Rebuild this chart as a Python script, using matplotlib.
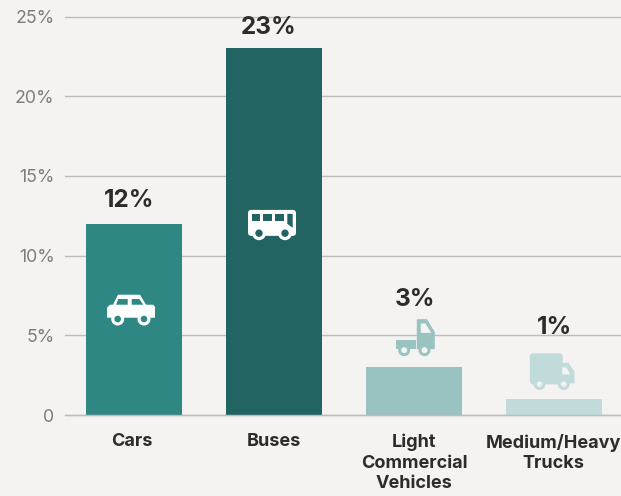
import matplotlib
matplotlib.use("Agg")
import matplotlib.pyplot as plt
from matplotlib.patches import Polygon, Circle, FancyBboxPatch
from matplotlib.transforms import Affine2D

categories = ["Cars", "Buses", "Light\nCommercial\nVehicles", "Medium/Heavy\nTrucks"]
shares = [12, 23, 3, 1]
y_ticks = [0, 5, 10, 15, 20, 25]
y_tick_labels = ["0", "5%", "10%", "15%", "20%", "25%"]

BG = "#f4f3f1"
INK = "#2f2a2b"
TICK = "#7f7c7a"
GRID = "#bfbdba"
bar_colors = ["#2e8783", "#226461", "#99c3c1", "#c1dbdb"]
FONT = "Inter"

W, H = 621, 496
LEFT, RIGHT, Y0, Y25 = 65, 621, 415, 16.5


def wheels(centers, r_out, r_in, fg, bg):
    out = []
    for c in centers:
        out.append(Circle(c, r_out, fc=fg))
        out.append(Circle(c, r_in, fc=bg))
    return out


def car(fg, bg):
    shapes = [
        Polygon([(-24, -3), (-21, -6), (-18, -6), (-13, -16), (9, -16), (15, -6),
                 (22, -6), (24, -4), (24, 7), (-24, 7)], fc=fg),
        Polygon([(-15, -6), (-12.7, -11.7), (-3.3, -11.7), (-3.3, -6)], fc=bg),
        Polygon([(0.7, -6), (0.7, -11.7), (8.3, -11.7), (12.3, -6)], fc=bg),
    ]
    return shapes + wheels([(-13.3, 8.3), (13, 8.3)], 6.5, 3.3, fg, bg)


def bus(fg, bg):
    shapes = [FancyBboxPatch((-21, -11), 42, 20, boxstyle="round,pad=3,rounding_size=3", fc=fg)]
    for x0, x1 in [(-20.3, -12), (-8.7, 0), (3.3, 12)]:
        shapes.append(Polygon([(x0, -10), (x1, -10), (x1, -3.3), (x0, -3.3)], fc=bg))
    shapes.append(Polygon([(15.3, -10), (20.7, -10), (20.7, 4), (15.3, 0)], fc=bg))
    return shapes + wheels([(-13, 9.3), (13, 9.3)], 7, 3.7, fg, bg)


def pickup(fg, bg):
    shapes = [
        Polygon([(-20, 2), (0.7, 2), (0.7, 11), (-20, 11)], fc=fg),
        Polygon([(1.3, -19), (11.5, -19), (19.3, -6), (19.3, 11), (1.3, 11)], fc=fg),
        Polygon([(5.3, -14.7), (10, -14.7), (15.7, -5.3), (5.3, -5.3)], fc=bg),
    ]
    return shapes + wheels([(-11.3, 12), (9, 12)], 6, 3, fg, bg)


def van(fg, bg):
    shapes = [
        FancyBboxPatch((-19.7, -15.7), 29, 27, boxstyle="round,pad=2,rounding_size=3", fc=fg),
        Polygon([(10.7, -8.3), (17, -8.3), (23, 1), (23, 12.3), (10.7, 12.3)], fc=fg),
        Polygon([(10.7, -3.7), (14.7, -3.7), (19, 3.3), (10.7, 3.3)], fc=bg),
    ]
    return shapes + wheels([(-12, 13), (12.3, 13)], 6, 2.7, fg, bg)


def draw_icon(ax, func, x, y, fg, bg):
    # icons are built in pixels around their centre, y pointing down
    px, py = ax.transData.transform((x, y))
    tr = Affine2D().scale(1, -1).translate(px, py)
    for patch in func(fg, bg):
        patch.set_edgecolor("none")
        patch.set_transform(tr)
        patch.set_clip_on(False)
        patch.set_zorder(4)
        ax.add_artist(patch)


fig = plt.figure(figsize=(W / 100, H / 100), dpi=100, facecolor=BG)
ax = fig.add_axes([LEFT / W, 1 - Y0 / H, (RIGHT - LEFT) / W, (Y0 - Y25) / H], facecolor=BG)

xs = list(range(len(categories)))
ax.set_xlim((LEFT - 134) / 140, (RIGHT - 134) / 140)
ax.set_ylim(0, 25)

ax.bar(xs, shares, width=0.686, color=bar_colors, zorder=3)

for spine in ax.spines.values():
    spine.set_visible(False)
ax.set_yticks(y_ticks)
ax.set_yticklabels(y_tick_labels, family=FONT, fontsize=12.8, color=TICK)
ax.tick_params(axis="y", length=0, pad=7.5)
ax.set_xticks([])
ax.grid(axis="y", color=GRID, linewidth=1.0, zorder=1, clip_on=False)
ax.axhline(0, color=GRID, linewidth=1.0, zorder=3.5, clip_on=False)
ax.set_axisbelow(True)

# value labels sit at different heights because of the icons above the small bars
label_gaps = [23, 21, 67.5, 72]
label_shift = [-5, -5, 1, 0.5]
for x, v, gap, dx in zip(xs, shares, label_gaps, label_shift):
    ax.annotate(f"{v}%", (x, v), xytext=(dx * 0.72, gap * 0.72), textcoords="offset points",
                ha="center", va="center", family=FONT, fontsize=17.5, fontweight="bold",
                color=INK, zorder=5)

cat_shift = [-2, 0, 0, -1]
for x, name, dx in zip(xs, categories, cat_shift):
    ax.annotate(name, (x, 0), xytext=(dx * 0.72, -18.5 * 0.72), textcoords="offset points",
                ha="center", va="top", family=FONT, fontsize=13, fontweight="bold",
                color=INK, linespacing=1.28, annotation_clip=False)

icon_funcs = [car, bus, pickup, van]
icon_x_shift = [-3, -2, 1.5, -2.5]
icon_y_shift = [-87, -175.5, 29, 28]
icon_bg = [bar_colors[0], bar_colors[1], BG, BG]
px_per_y = (Y0 - Y25) / 25
for x, v, f, dx, dy, c, b in zip(xs, shares, icon_funcs, icon_x_shift, icon_y_shift, bar_colors, icon_bg):
    fg = "white" if v > 5 else c
    draw_icon(ax, f, x + dx / 140, v + dy / px_per_y, fg, b)

fig.savefig("out.png", dpi=100, facecolor=BG)
